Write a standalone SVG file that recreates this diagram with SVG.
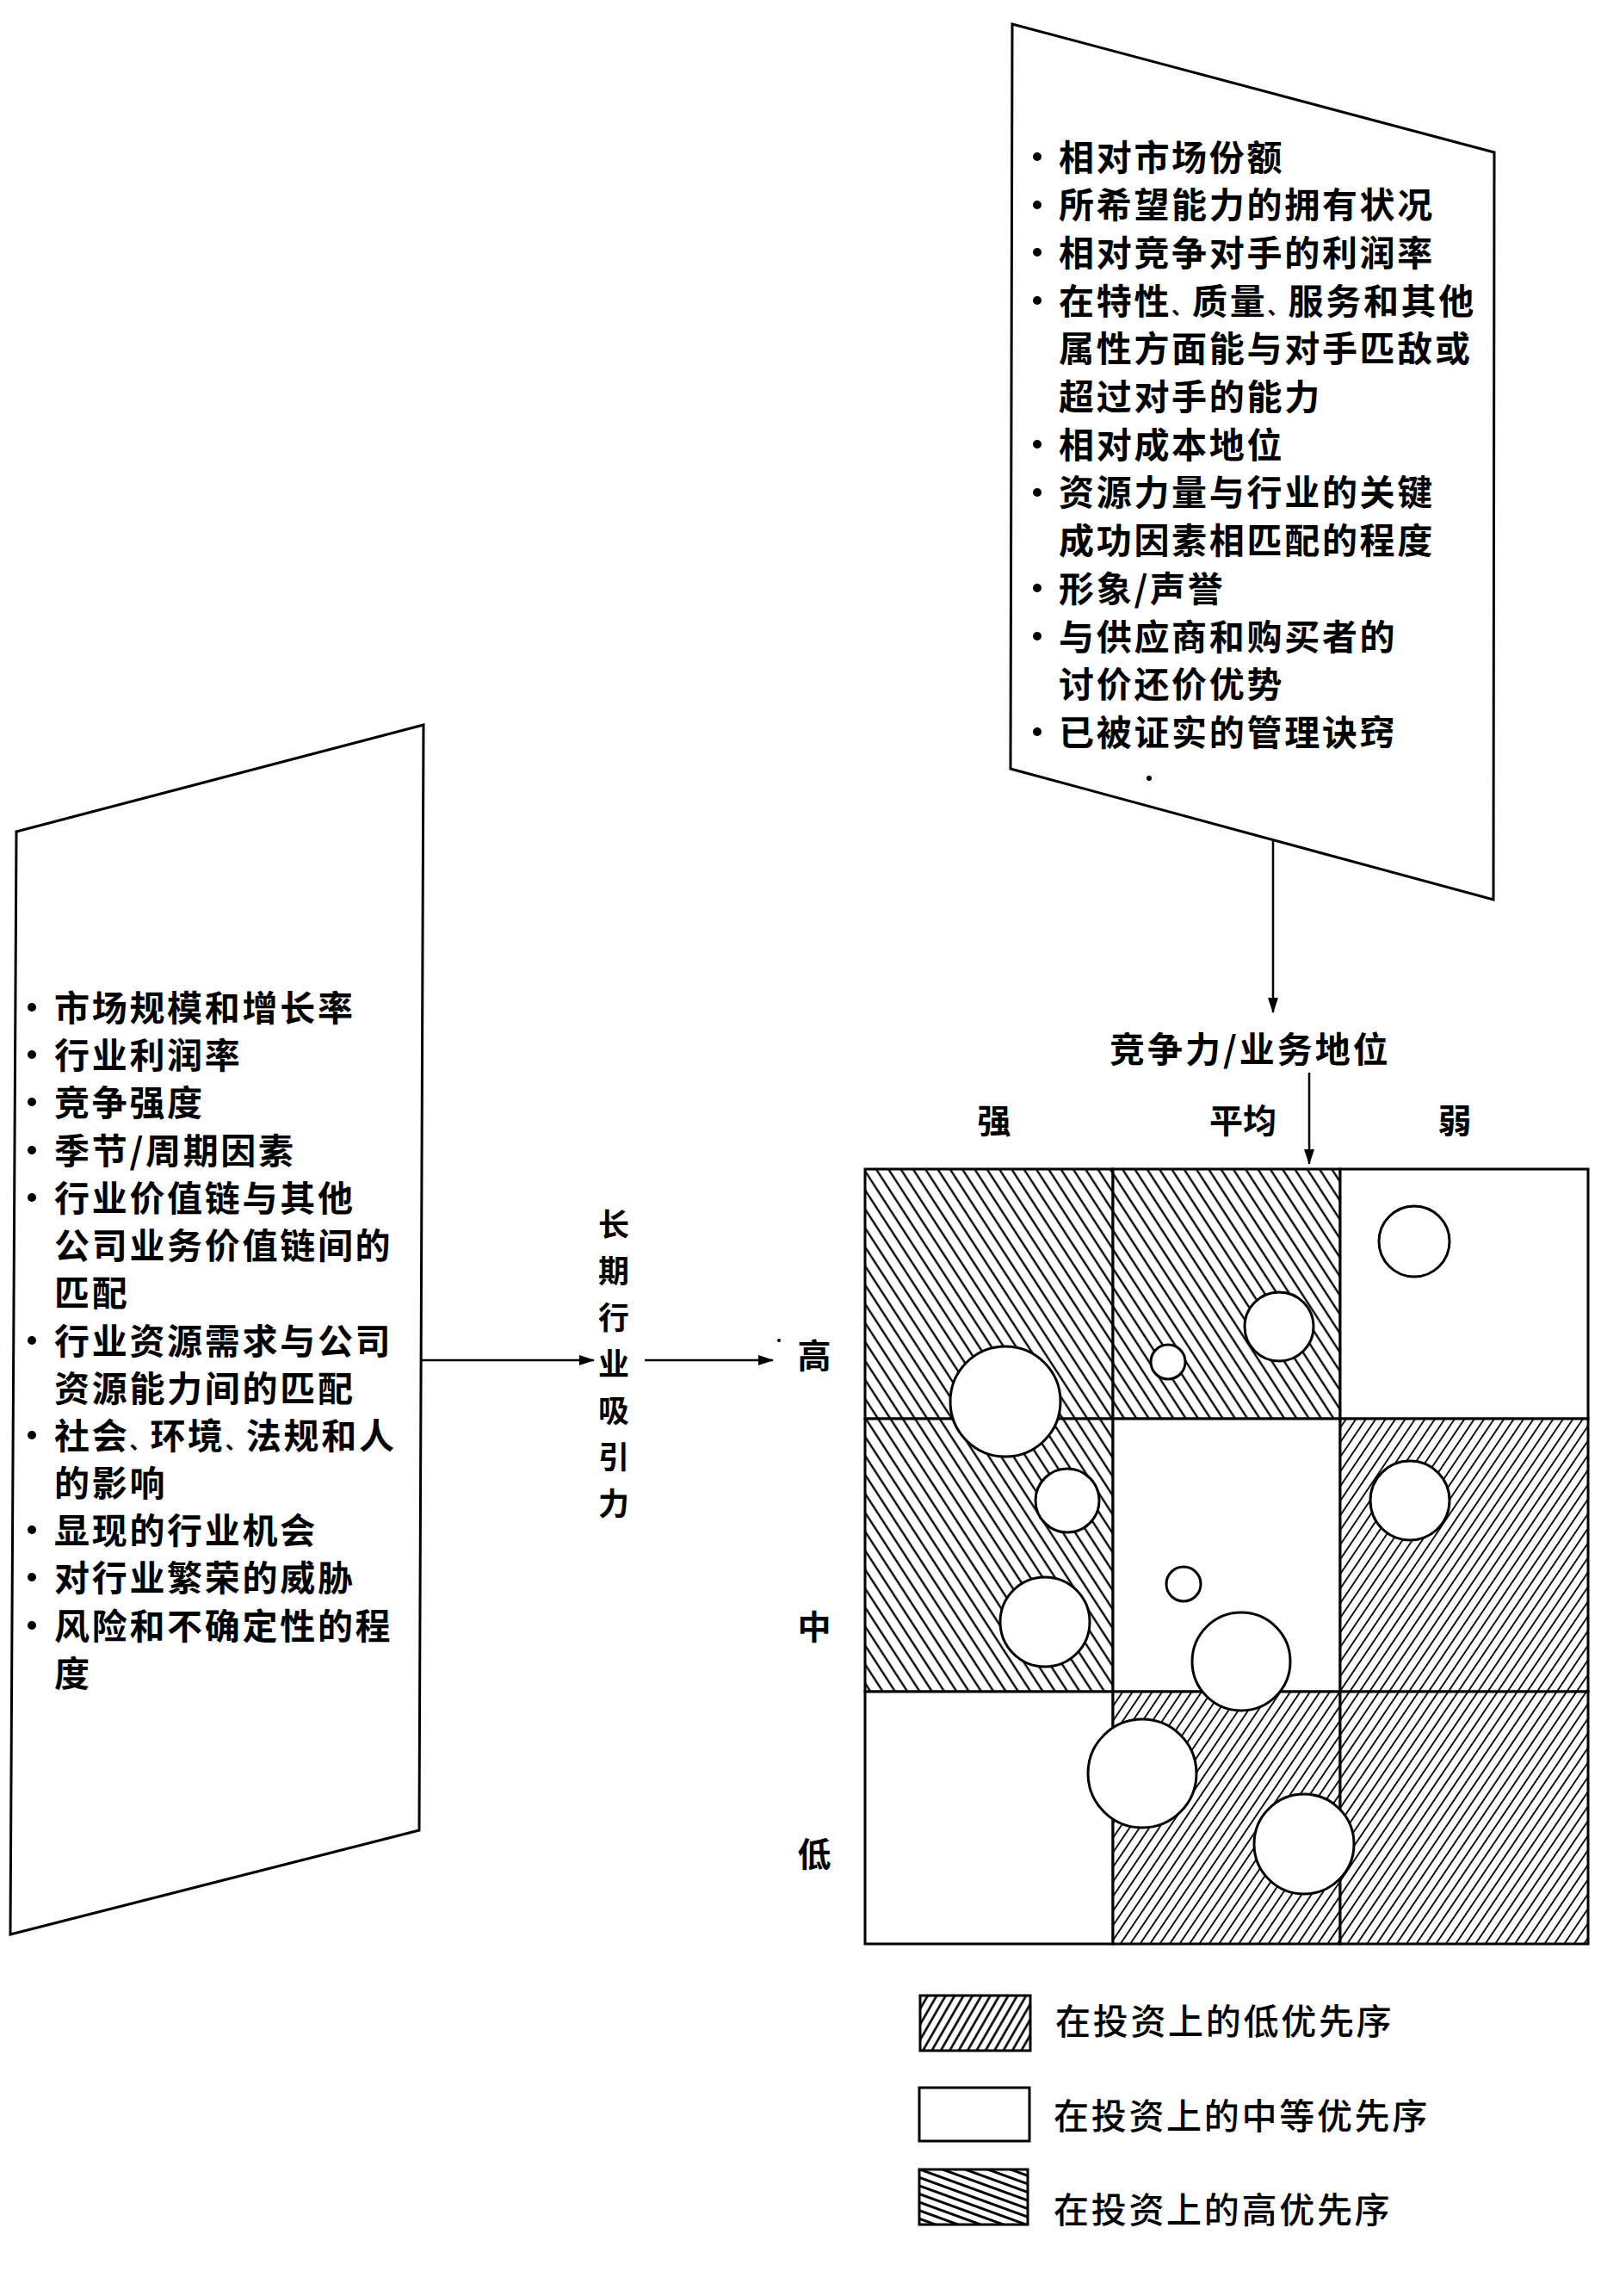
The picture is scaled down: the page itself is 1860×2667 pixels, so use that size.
<svg xmlns="http://www.w3.org/2000/svg" width="1860" height="2667" viewBox="0 0 1860 2667">
<defs>
<style>
.t{font-family:'Noto Sans CJK SC','Noto Sans CJK JP',sans-serif;font-size:41px;letter-spacing:2.7px;fill:#000;font-weight:700}
.lg{font-family:'Noto Sans CJK SC','Noto Sans CJK JP',sans-serif;font-size:41px;letter-spacing:2.7px;fill:#000;font-weight:500}
.dun{font-size:24px;letter-spacing:0}
.v{font-family:'Noto Sans CJK SC','Noto Sans CJK JP',sans-serif;font-size:36px;fill:#000;text-anchor:middle;font-weight:700}
.ax{font-family:'Noto Sans CJK SC','Noto Sans CJK JP',sans-serif;font-size:39px;fill:#000;text-anchor:middle;font-weight:700}
.panel{fill:#fff;stroke:#000;stroke-width:3;stroke-linejoin:miter}
.cell{stroke:#000;stroke-width:3}
.bub{fill:#fff;stroke:#000;stroke-width:3}
.conn{stroke:#000;stroke-width:2.5;fill:none}
</style>
<pattern id="hatchHigh" patternUnits="userSpaceOnUse" width="12" height="12" patternTransform="rotate(-33)">
<rect width="12" height="12" fill="#fff"/><line x1="6" y1="0" x2="6" y2="12" stroke="#000" stroke-width="2.4"/>
</pattern>
<pattern id="hatchLow" patternUnits="userSpaceOnUse" width="9.5" height="9.5" patternTransform="rotate(34)">
<rect width="9.5" height="9.5" fill="#fff"/><line x1="4.75" y1="0" x2="4.75" y2="9.5" stroke="#000" stroke-width="1.8"/>
</pattern>
<pattern id="legHigh" patternUnits="userSpaceOnUse" width="9" height="9" patternTransform="rotate(-70)">
<rect width="9" height="9" fill="#fff"/><line x1="4.5" y1="0" x2="4.5" y2="9" stroke="#000" stroke-width="3"/>
</pattern>
<pattern id="legLow" patternUnits="userSpaceOnUse" width="9" height="9" patternTransform="rotate(30)">
<rect width="9" height="9" fill="#fff"/><line x1="4.5" y1="0" x2="4.5" y2="9" stroke="#000" stroke-width="2.6"/>
</pattern>
<marker id="arr" markerUnits="userSpaceOnUse" markerWidth="18" markerHeight="12" refX="17" refY="6" orient="auto">
<path d="M0,0 L18,6 L0,12 Z" fill="#000"/>
</marker>
</defs>
<rect width="1860" height="2667" fill="#fff"/>

<g id="panel-position">
<polygon class="panel" points="1176,28 1736,177 1735,1045 1174,893"/>
<g fill="#000">
<circle cx="1205" cy="182" r="5"/><circle cx="1205" cy="238" r="5"/><circle cx="1205" cy="293" r="5"/><circle cx="1205" cy="349" r="5"/>
<circle cx="1205" cy="516" r="5"/><circle cx="1205" cy="572" r="5"/><circle cx="1205" cy="683" r="5"/><circle cx="1205" cy="739" r="5"/><circle cx="1205" cy="850" r="5"/>
<circle cx="1335" cy="904" r="3"/>
</g>
<text class="t" x="1230" y="198">相对市场份额</text>
<text class="t" x="1230" y="253">所希望能力的拥有状况</text>
<text class="t" x="1230" y="309">相对竞争对手的利润率</text>
<text class="t" x="1230" y="365">在特性<tspan class="dun">、</tspan>质量<tspan class="dun">、</tspan>服务和其他</text>
<text class="t" x="1230" y="420">属性方面能与对手匹敌或</text>
<text class="t" x="1230" y="476">超过对手的能力</text>
<text class="t" x="1230" y="532">相对成本地位</text>
<text class="t" x="1230" y="587">资源力量与行业的关键</text>
<text class="t" x="1230" y="643">成功因素相匹配的程度</text>
<text class="t" x="1230" y="699">形象/声誉</text>
<text class="t" x="1230" y="755">与供应商和购买者的</text>
<text class="t" x="1230" y="810">讨价还价优势</text>
<text class="t" x="1230" y="866">已被证实的管理诀窍</text>
</g>

<g id="panel-attractiveness">
<polygon class="panel" points="19,966 492,842 487,2126 12,2247"/>
<g fill="#000">
<circle cx="37" cy="1170" r="5"/><circle cx="37" cy="1225" r="5"/><circle cx="37" cy="1280" r="5"/><circle cx="37" cy="1336" r="5"/><circle cx="37" cy="1391" r="5"/>
<circle cx="37" cy="1557" r="5"/><circle cx="37" cy="1667" r="5"/><circle cx="37" cy="1777" r="5"/><circle cx="37" cy="1832" r="5"/><circle cx="37" cy="1888" r="5"/>
</g>
<text class="t" x="63" y="1186">市场规模和增长率</text>
<text class="t" x="63" y="1241">行业利润率</text>
<text class="t" x="63" y="1296">竞争强度</text>
<text class="t" x="63" y="1352">季节/周期因素</text>
<text class="t" x="63" y="1407">行业价值链与其他</text>
<text class="t" x="63" y="1462">公司业务价值链间的</text>
<text class="t" x="63" y="1517">匹配</text>
<text class="t" x="63" y="1573">行业资源需求与公司</text>
<text class="t" x="63" y="1628">资源能力间的匹配</text>
<text class="t" x="63" y="1683">社会<tspan class="dun">、</tspan>环境<tspan class="dun">、</tspan>法规和人</text>
<text class="t" x="63" y="1738">的影响</text>
<text class="t" x="63" y="1793">显现的行业机会</text>
<text class="t" x="63" y="1848">对行业繁荣的威胁</text>
<text class="t" x="63" y="1904">风险和不确定性的程</text>
<text class="t" x="63" y="1959">度</text>
</g>

<g id="label-attractiveness">
<text class="v" x="713" y="1436">长</text>
<text class="v" x="713" y="1490">期</text>
<text class="v" x="713" y="1544">行</text>
<text class="v" x="713" y="1598">业</text>
<text class="v" x="713" y="1652">吸</text>
<text class="v" x="713" y="1706">引</text>
<text class="v" x="713" y="1760">力</text>
<circle cx="905" cy="1557" r="2" fill="#000"/>
</g>

<g id="label-position">
<text class="t" x="1289" y="1234" style="letter-spacing:3px">竞争力/业务地位</text>
</g>

<g id="axis-labels">
<text class="ax" x="1155" y="1316">强</text>
<text class="ax" x="1444" y="1316">平均</text>
<text class="ax" x="1690" y="1316">弱</text>
<text class="ax" x="946" y="1589">高</text>
<text class="ax" x="946" y="1904">中</text>
<text class="ax" x="946" y="2168">低</text>
</g>

<g id="matrix">
<rect class="cell" x="1005" y="1358" width="288" height="290" fill="url(#hatchHigh)"/>
<rect class="cell" x="1293" y="1358" width="264" height="290" fill="url(#hatchHigh)"/>
<rect class="cell" x="1557" y="1358" width="288" height="290" fill="#fff"/>
<rect class="cell" x="1005" y="1648" width="288" height="317" fill="url(#hatchHigh)"/>
<rect class="cell" x="1293" y="1648" width="264" height="317" fill="#fff"/>
<rect class="cell" x="1557" y="1648" width="288" height="317" fill="url(#hatchLow)"/>
<rect class="cell" x="1005" y="1965" width="288" height="293" fill="#fff"/>
<rect class="cell" x="1293" y="1965" width="264" height="293" fill="url(#hatchLow)"/>
<rect class="cell" x="1557" y="1965" width="288" height="293" fill="url(#hatchLow)"/>
<circle class="bub" cx="1168" cy="1628" r="64"/>
<circle class="bub" cx="1357" cy="1582" r="20"/>
<circle class="bub" cx="1486" cy="1541" r="40"/>
<circle class="bub" cx="1643" cy="1442" r="41"/>
<circle class="bub" cx="1240" cy="1743" r="37"/>
<circle class="bub" cx="1214" cy="1884" r="52"/>
<circle class="bub" cx="1375" cy="1840" r="20"/>
<circle class="bub" cx="1442" cy="1930" r="57"/>
<circle class="bub" cx="1638" cy="1743" r="46"/>
<circle class="bub" cx="1327" cy="2060" r="63"/>
<circle class="bub" cx="1515" cy="2142" r="58"/>
</g>

<g id="legend">
<rect class="cell" x="1069" y="2318" width="128" height="64" fill="url(#legLow)"/>
<text class="lg" x="1226" y="2363">在投资上的低优先序</text>
<rect class="cell" x="1068" y="2425" width="128" height="62" fill="#fff"/>
<text class="lg" x="1224" y="2473">在投资上的中等优先序</text>
<rect class="cell" x="1068" y="2520" width="126" height="64" fill="url(#legHigh)"/>
<text class="lg" x="1224" y="2582">在投资上的高优先序</text>
</g>

<g id="connectors">
<line class="conn" x1="1479" y1="977" x2="1479" y2="1176" marker-end="url(#arr)"/>
<line class="conn" x1="1521" y1="1246" x2="1521" y2="1352" marker-end="url(#arr)"/>
<line class="conn" x1="488" y1="1580" x2="690" y2="1580" marker-end="url(#arr)"/>
<line class="conn" x1="749" y1="1580" x2="898" y2="1580" marker-end="url(#arr)"/>
</g>
</svg>
